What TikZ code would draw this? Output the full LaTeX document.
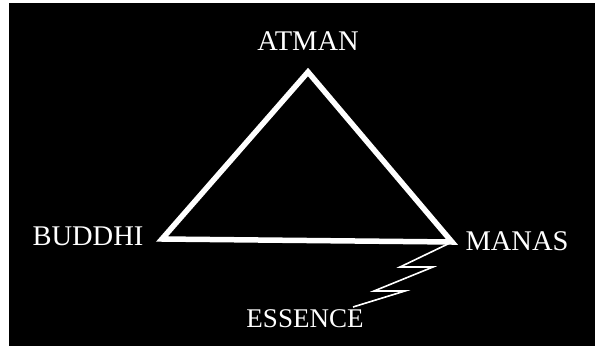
\documentclass[tikz,border=0pt]{standalone}
\usepackage{fontspec}
\setmainfont{Liberation Serif}
\usepackage{tikz}
\usetikzlibrary{positioning}
\tikzset{
  label/.style={text=white,inner sep=0pt,font=\fontsize{28.5}{31}\selectfont},
  side/.style={draw=white,line width=5.5pt},
  bolt/.style={draw=white,line width=1.6pt,line join=miter}
}

\begin{document}
\begin{tikzpicture}[x=1pt,y=-1pt]
      \useasboundingbox (0,0) rectangle (595,346);
      \fill[white] (0,0) rectangle (595,346);
      \fill[black] (9,3) rectangle (595,346);
      \coordinate (a) at (308,72);
      \coordinate (b) at (162,239);
      \coordinate (m) at (452,242);
      \coordinate (spark) at (353,307);
      \node[label] (atman) at (308,41) {ATMAN};
      \node[label] (buddhi) at (88,236) {BUDDHI};
      \node[label] (manas) at (517,241) {MANAS};
      \node[label,font=\fontsize{27}{30}\selectfont] (essence) at (305,319) {ESSENCE};
      \draw[side] (a) -- (m) -- (b) -- cycle;
      \draw[bolt] (m) -- (400,267) -- (433,267) -- (374,291) -- (405,291) -- (spark);
    \end{tikzpicture}
\end{document}
